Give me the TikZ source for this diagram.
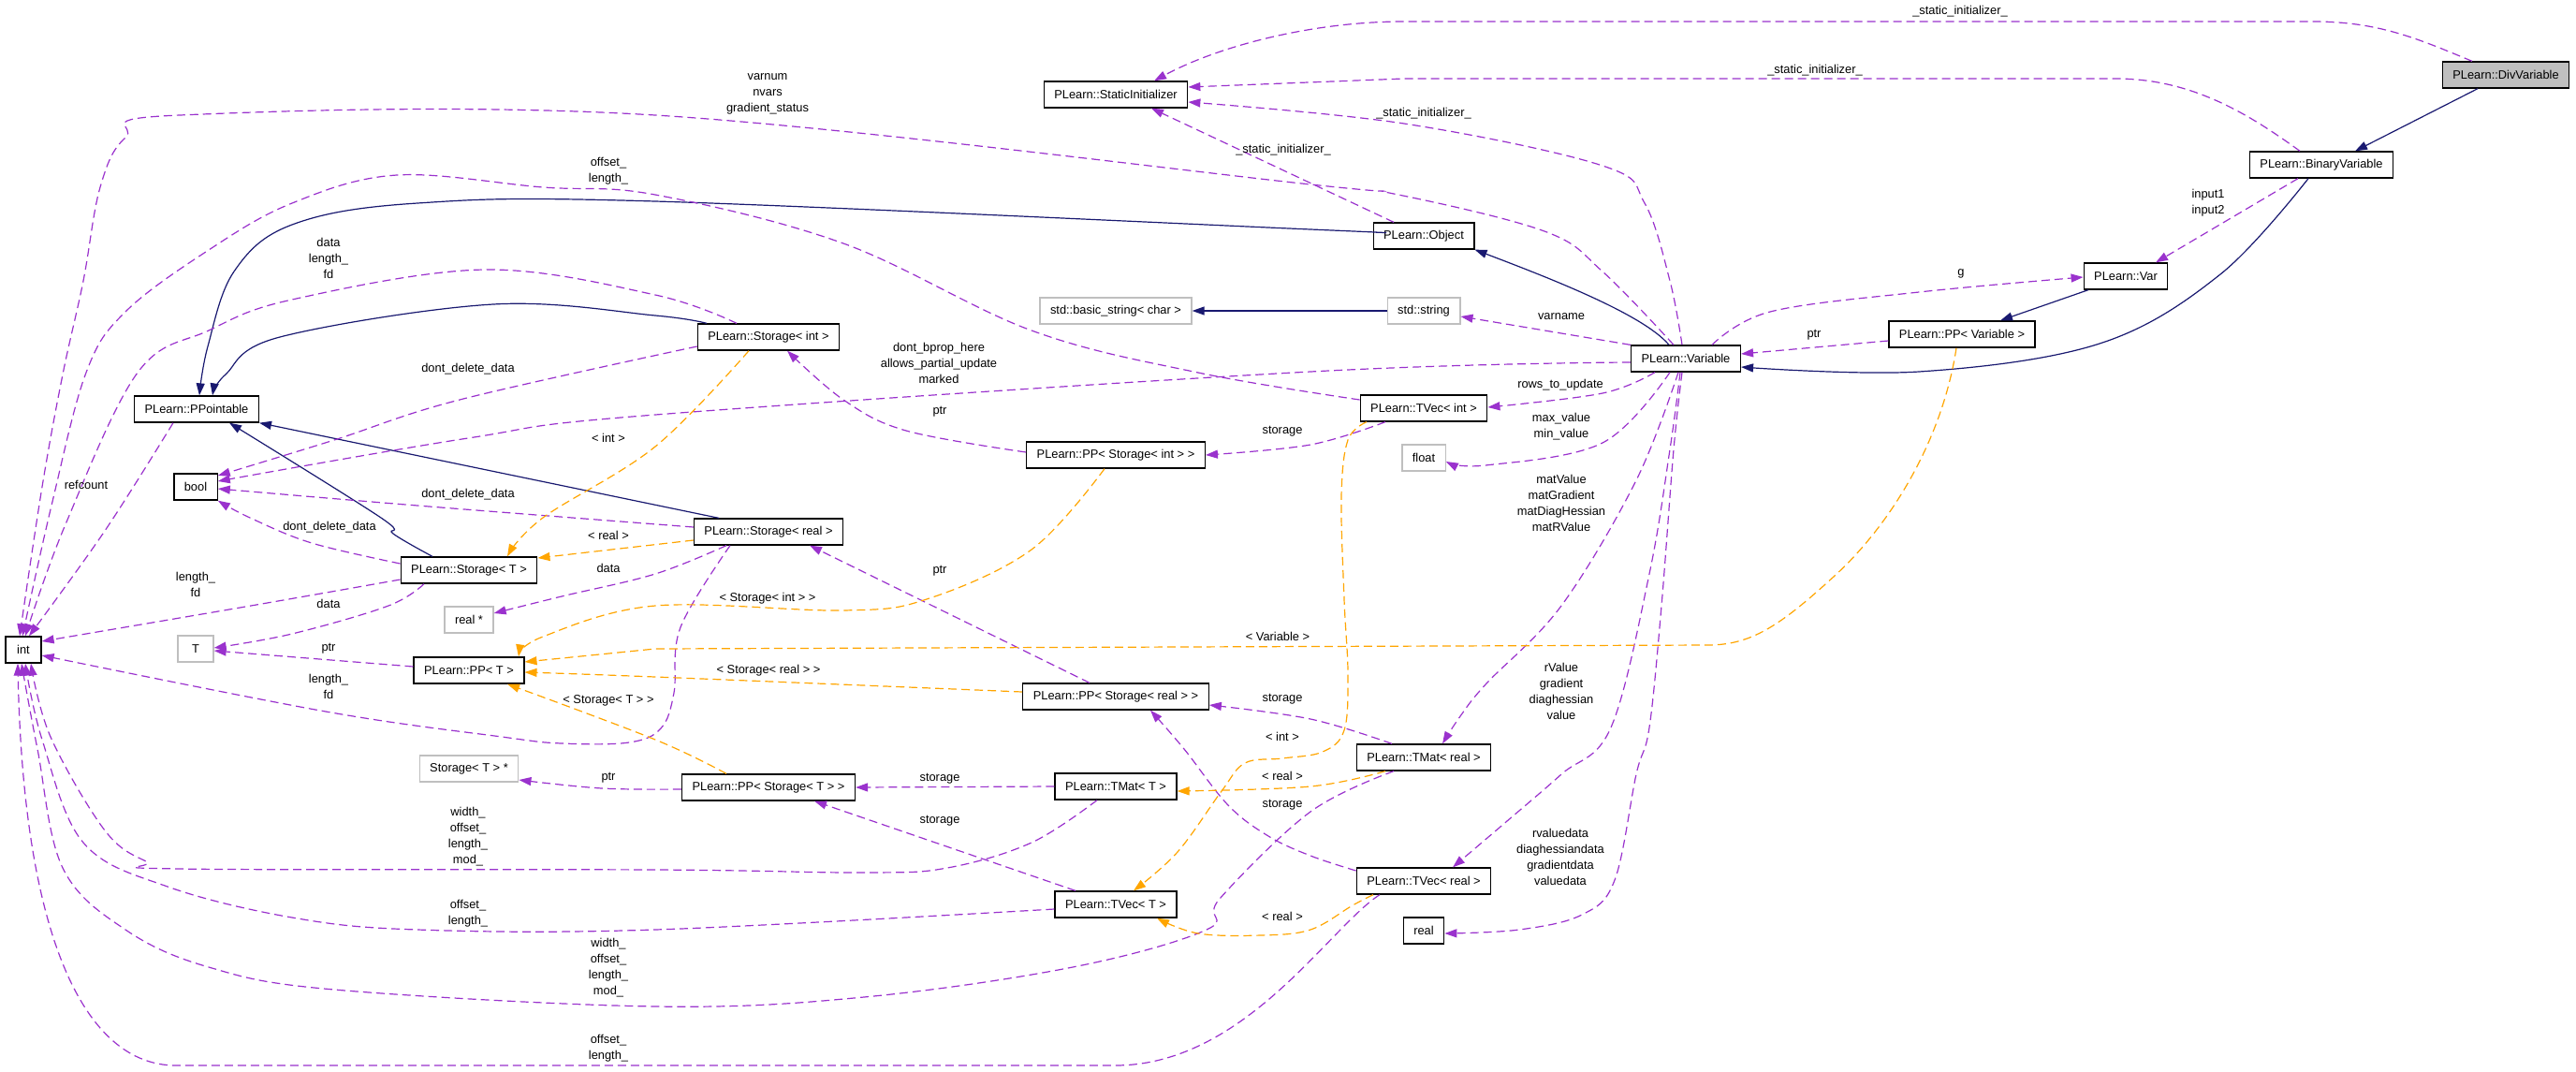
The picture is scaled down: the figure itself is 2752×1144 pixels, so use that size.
\documentclass[tikz,border=0pt]{standalone}
\usepackage{fontspec}
\setmainfont{Liberation Sans}
\usetikzlibrary{arrows.meta}
\definecolor{usecol}{HTML}{9A32CD}
\definecolor{tplcol}{HTML}{FFA500}
\definecolor{inhcol}{HTML}{191970}
\definecolor{grayedge}{HTML}{BFBFBF}
\begin{document}
\begin{tikzpicture}[x=1pt,y=-1pt,
  every node/.style={font=\fontsize{12.85}{17}\selectfont},
  cls/.style={draw=black,line width=1.3pt,fill=white,minimum height=28pt,minimum width=38pt,inner xsep=11pt,inner ysep=0pt},
  ext/.style={cls,draw=grayedge},
  lbl/.style={align=center,inner sep=0pt},
  inherit/.style={draw=inhcol,line width=1.2pt,-{Triangle[length=13pt,width=9pt]}},
  usage/.style={draw=usecol,line width=1.2pt,dash pattern=on 9pt off 5pt,-{Triangle[length=13pt,width=9pt]}},
  templ/.style={usage,draw=tplcol}]
\useasboundingbox (0,0) rectangle (2752,1144);

%%% CLASSES %%%
\node [cls,fill=grayedge] at (2677,80) (div_var) {PLearn::DivVariable};
\node [cls] at (2480,176) (binary_var) {PLearn::BinaryVariable};
\node [cls] at (2271,295) (var) {PLearn::Var};
\node [cls] at (2096,357) (pp_variable) {PLearn::PP< Variable >};
\node [cls] at (1801,383) (variable) {PLearn::Variable};
\node [cls] at (1521,252) (object) {PLearn::Object};
\node [ext] at (1521,332) (std_string) {std::string};
\node [cls] at (1521,436) (tvec_int) {PLearn::TVec< int >};
\node [ext] at (1521,489) (float) {float};
\node [cls] at (1521,809) (tmat_real) {PLearn::TMat< real >};
\node [cls] at (1521,941) (tvec_real) {PLearn::TVec< real >};
\node [cls] at (1521,994) (real) {real};
\node [cls] at (1192,101) (static_init) {PLearn::StaticInitializer};
\node [ext] at (1192,332) (basic_string) {std::basic\_string< char >};
\node [cls] at (1192,486) (pp_stor_int) {PLearn::PP< Storage< int > >};
\node [cls] at (1192,744) (pp_stor_real) {PLearn::PP< Storage< real > >};
\node [cls] at (1192,840) (tmat_T) {PLearn::TMat< T >};
\node [cls] at (1192,966) (tvec_T) {PLearn::TVec< T >};
\node [cls] at (821,360) (stor_int) {PLearn::Storage< int >};
\node [cls] at (821,568) (stor_real) {PLearn::Storage< real >};
\node [cls] at (821,841) (pp_stor_T) {PLearn::PP< Storage< T > >};
\node [cls] at (501,609) (stor_T) {PLearn::Storage< T >};
\node [ext] at (501,662) (real_ptr) {real *};
\node [cls] at (501,716) (pp_T) {PLearn::PP< T >};
\node [ext] at (501,821) (stor_T_ptr) {Storage< T > *};
\node [cls] at (210,437) (ppointable) {PLearn::PPointable};
\node [cls] at (209,520) (bool) {bool};
\node [ext] at (209,693) (T) {T};
\node [cls] at (25,694) (int) {int};

%%% INHERITANCE %%%
\draw [inherit] ([xshift=-30pt]div_var.south) -- ([xshift=36pt]binary_var.north);
\draw [inherit] plot[smooth,tension=0.6] coordinates {([xshift=-14pt]binary_var.south) (2372,293) (2243,367) (2050,397) ([yshift=-9pt]variable.east)};
\draw [inherit] ([xshift=-40pt]var.south) -- ([xshift=41pt]pp_variable.north);
\draw [inherit] ([xshift=-18pt]variable.north) .. controls (1755,335) and (1650,295) .. (object.south east);
\draw [inherit] (std_string.west) -- (basic_string.east);
\draw [inherit] plot[smooth,tension=0.6] coordinates {([yshift=4pt]object.west) (1400,245) (700,215) (446,217) (312,240) (250,290) (222,370) ([xshift=3pt]ppointable.north)};
\draw [inherit] plot[smooth,tension=0.6] coordinates {([xshift=-66pt]stor_int.north) (700,337) (527,325) (299,360) (241,400) ([xshift=17pt]ppointable.north)};
\draw [inherit] ([xshift=-53pt]stor_real.north) -- (ppointable.south east);
\draw [inherit] plot[smooth,tension=0.6] coordinates {([xshift=-39pt]stor_T.north) (420,570) (407,553) ([xshift=35pt]ppointable.south)};

%%% MEMBERS %%%
\draw [usage] ([xshift=-36pt]div_var.north) .. controls (2580,40) and (2540,23) .. (2470,23) -- (1500,23) .. controls (1400,23) and (1300,50) .. ([xshift=41pt]static_init.north);
\draw [usage] ([xshift=-23pt]binary_var.north) .. controls (2400,120) and (2340,84) .. (2260,84) -- (1500,84) -- ([yshift=8pt]static_init.east);
\draw [usage] plot[smooth,tension=0.6] coordinates {([xshift=-4pt]variable.north) (1784,300) (1757,217) (1712,177) (1500,132) ([yshift=-8pt]static_init.east)};
\draw [usage] ([xshift=-32pt]object.north) -- ([xshift=38pt]static_init.south);
\draw [usage] plot[smooth,tension=0.6] coordinates {([xshift=-13pt]variable.north) (1712,290) (1650,247) (1489,207) (1400,197) (700,123) (192,123) (134,147) (107,200) (89,300) (67,400) (45,520) ([xshift=-4pt]int.north)};
\draw [usage] plot[smooth,tension=0.6] coordinates {([yshift=9pt]tvec_int.west) (1280,398) (1102,353) (901,260) (700,208) (580,200) (424,187) (312,217) (223,267) (134,333) (92,398) (55,540) ([xshift=-1pt]int.north)};
\draw [usage] plot[smooth,tension=0.6] coordinates {([xshift=-34pt]stor_int.north) (700,315) (518,288) (312,320) (223,353) (147,398) (70,560) ([xshift=2pt]int.north)};
\draw [usage] plot[smooth,tension=0.6] coordinates {([yshift=-10pt]stor_int.west) (491,427) (357,470) ([yshift=12pt]bool.east)};
\draw [usage] plot[smooth,tension=0.6] coordinates {([yshift=5pt]stor_real.west) (446,540) ([yshift=-2pt]bool.east)};
\draw [usage] plot[smooth,tension=0.6] coordinates {([yshift=-4pt]variable.west) (1400,397) (700,443) (500,468) ([yshift=6pt]bool.east)};
\draw [usage] plot[smooth,tension=0.6] coordinates {([yshift=7pt]stor_T.west) (333,580) (267,553) (bool.south east)};
\draw [usage] plot[smooth,tension=0.6] coordinates {([yshift=-10pt]stor_T.west) (268,647) ([yshift=9pt]int.east)};
\draw [usage] plot[smooth,tension=0.6] coordinates {([xshift=-48pt]stor_T.south) (415,647) (312,677) ([yshift=1pt]T.east)};
\draw [usage] ([yshift=4pt]pp_T.west) -- ([yshift=-2pt]T.east);
\draw [usage] plot[smooth,tension=0.6] coordinates {([xshift=-45pt]stor_real.south) (700,613) (600,637) ([yshift=7pt]real_ptr.east)};
\draw [usage] plot[smooth,tension=0.6] coordinates {([xshift=-41pt]stor_real.south) (727,670) (720,740) (706,778) (672,793) (600,794) (536,787) (348,760) ([yshift=-6pt]int.east)};
\draw [usage] plot[smooth,tension=0.6] coordinates {([yshift=3pt]pp_stor_int.west) (968,460) (901,427) ([xshift=20pt]stor_int.south)};
\draw [usage] plot[smooth,tension=0.6] coordinates {([xshift=-41pt]tvec_int.south) (1400,475) (pp_stor_int.east)};
\draw [usage] plot[smooth,tension=0.6] coordinates {([xshift=-33pt]variable.south) (1712,420) ([yshift=1pt]tvec_int.east)};
\draw [usage] plot[smooth,tension=0.6] coordinates {([xshift=-17pt]variable.south) (1712,473) (1587,497) ([yshift=-4pt]float.east)};
\draw [usage] (variable.north west) -- ([yshift=-6pt]std_string.east);
\draw [usage] ([yshift=-7pt]pp_variable.west) -- ([yshift=5pt]variable.east);
\draw [usage] plot[smooth,tension=0.6] coordinates {([xshift=28pt]variable.north) (1891,333) (2050,312) ([yshift=-1pt]var.west)};
\draw [usage] ([xshift=-25pt]binary_var.south) -- ([xshift=32pt]var.north);
\draw [usage] plot[smooth,tension=0.6] coordinates {([xshift=-8pt]variable.south) (1748,513) (1668,647) (1588,730) (1560,765) ([xshift=20pt]tmat_real.north)};
\draw [usage] plot[smooth,tension=0.6] coordinates {([xshift=-6pt]variable.south) (1784,480) (1762,613) (1721,777) (1668,827) (1610,877) ([xshift=31pt]tvec_real.north)};
\draw [usage] plot[smooth,tension=0.6] coordinates {([xshift=-4pt]variable.south) (1788,480) (1775,647) (1762,777) (1748,827) (1725,940) (1690,977) (1623,993) ([yshift=-3pt]real.east)};
\draw [usage] plot[smooth,tension=0.6] coordinates {([xshift=-34pt]tmat_real.north) (1400,768) ([yshift=-9pt]pp_stor_real.east)};
\draw [usage] plot[smooth,tension=0.6] coordinates {([yshift=11pt]tvec_real.west) (1400,914) (1355,893) (1312,860) (1265,800) ([xshift=37pt]pp_stor_real.south)};
\draw [usage] ([xshift=-28pt]pp_stor_real.north) -- ([xshift=44pt]stor_real.south);
\draw [usage] (tmat_T.west) -- (pp_stor_T.east);
\draw [usage] ([xshift=-43pt]tvec_T.north) -- ([xshift=49pt]pp_stor_T.south);
\draw [usage] plot[smooth,tension=0.6] coordinates {([yshift=-2pt]pp_stor_T.west) (643,842) ([yshift=-12pt]stor_T_ptr.east)};
\draw [usage] plot[smooth,tension=0.6] coordinates {([xshift=-20pt]tmat_T.south) (1102,900) (1012,927) (923,932) (700,929) (192,928) (156,920) (112,887) (54,787) ([xshift=8pt]int.south)};
\draw [usage] plot[smooth,tension=0.6] coordinates {([yshift=-5pt]tvec_T.west) (700,993) (446,993) (312,980) (179,947) (89,900) (45,790) ([xshift=2pt]int.south)};
\draw [usage] plot[smooth,tension=0.6] coordinates {([xshift=-32pt]tmat_real.south) (1400,867) (1303,960) (1289,993) (1146,1033) (923,1065) (700,1075) (357,1057) (223,1033) (134,993) (67,927) (40,800) ([xshift=-2pt]int.south)};
\draw [usage] ([xshift=-47pt]tvec_real.south) .. controls (1420,990) and (1330,1138) .. (1191,1138) -- (188,1138) .. controls (90,1138) and (25,1000) .. ([xshift=-6pt]int.south);
\draw [usage] plot[smooth,tension=0.6] coordinates {([xshift=-25pt]ppointable.south) (112,567) ([xshift=6pt]int.north)};

%%% TEMPLATES %%%
\draw [templ] plot[smooth,tension=0.6] coordinates {([xshift=-21pt]stor_int.south) (700,477) (580,553) ([xshift=41pt]stor_T.north)};
\draw [templ] ([yshift=-9pt]stor_real.west) -- ([yshift=13pt]stor_T.east);
\draw [templ] plot[smooth,tension=0.6] coordinates {([xshift=-12pt]pp_stor_int.south) (1102,587) (990,640) (901,652) (700,647) (580,680) ([xshift=53pt]pp_T.north)};
\draw [templ] ([xshift=-6pt]pp_variable.south) .. controls (2075,470) and (2020,560) .. (1960,615) .. controls (1900,670) and (1870,689) .. (1824,689) -- (700,693) -- ([yshift=9pt]pp_T.east);
\draw [templ] plot[smooth,tension=0.6] coordinates {([yshift=5pt]pp_stor_real.west) (700,723) ([yshift=-2pt]pp_T.east)};
\draw [templ] plot[smooth,tension=0.6] coordinates {([xshift=-45pt]pp_stor_T.north) (700,790) ([xshift=41pt]pp_T.south)};
\draw [templ] plot[smooth,tension=0.6] coordinates {([xshift=-61pt]tvec_int.south) (1440,470) (1433,530) (1436,640) (1440,720) (1436,780) (1413,803) (1370,810) (1330,815) (1305,845) (1258,910) ([xshift=19pt]tvec_T.north)};
\draw [templ] plot[smooth,tension=0.6] coordinates {([xshift=-41pt]tmat_real.south) (1400,840) ([yshift=-5pt]tmat_T.east)};
\draw [templ] plot[smooth,tension=0.6] coordinates {([xshift=-54pt]tvec_real.south) (1445,967) (1400,993) (1347,999) (1280,997) ([xshift=44pt]tvec_T.south)};

%%% LABELS %%%
\node [lbl] at (2094,12) (lab_si1) {\_static\_initializer\_};
\node [lbl] at (1939,75) (lab_si2) {\_static\_initializer\_};
\node [lbl] at (1521,121) (lab_si3) {\_static\_initializer\_};
\node [lbl] at (1371,160) (lab_si4) {\_static\_initializer\_};
\node [lbl] at (820,100) (lab_varnum) {varnum\\nvars\\gradient\_status};
\node [lbl] at (650,183) (lab_tvec_int) {offset\_\\length\_};
\node [lbl] at (351,276) (lab_stor_int) {data\\length\_\\fd};
\node [lbl] at (500,394) (lab_dd1) {dont\_delete\_data};
\node [lbl] at (500,528) (lab_dd2) {dont\_delete\_data};
\node [lbl] at (1003,388) (lab_bprop) {dont\_bprop\_here\\allows\_partial\_update\\marked};
\node [lbl] at (352,563) (lab_dd3) {dont\_delete\_data};
\node [lbl] at (209,624) (lab_stor_T) {length\_\\fd};
\node [lbl] at (351,645) (lab_data1) {data};
\node [lbl] at (351,693) (lab_ptr1) {ptr};
\node [lbl] at (650,607) (lab_data2) {data};
\node [lbl] at (351,733) (lab_stor_real) {length\_\\fd};
\node [lbl] at (1004,440) (lab_ptr2) {ptr};
\node [lbl] at (1370,461) (lab_sto1) {storage};
\node [lbl] at (1667,411) (lab_rows) {rows\_to\_update};
\node [lbl] at (1668,456) (lab_minmax) {max\_value\\min\_value};
\node [lbl] at (1668,338) (lab_varname) {varname};
\node [lbl] at (1938,358) (lab_ptr3) {ptr};
\node [lbl] at (2095,292) (lab_g) {g};
\node [lbl] at (2359,217) (lab_input) {input1\\input2};
\node [lbl] at (1668,537) (lab_mat) {matValue\\matGradient\\matDiagHessian\\matRValue};
\node [lbl] at (1668,738) (lab_vec) {rValue\\gradient\\diaghessian\\value};
\node [lbl] at (1667,915) (lab_vecdata) {rvaluedata\\diaghessiandata\\gradientdata\\valuedata};
\node [lbl] at (1370,747) (lab_sto2) {storage};
\node [lbl] at (1370,860) (lab_sto3) {storage};
\node [lbl] at (1004,610) (lab_ptr4) {ptr};
\node [lbl] at (1004,832) (lab_sto4) {storage};
\node [lbl] at (1004,877) (lab_sto5) {storage};
\node [lbl] at (650,831) (lab_ptr5) {ptr};
\node [lbl] at (500,894) (lab_tmat_T) {width\_\\offset\_\\length\_\\mod\_};
\node [lbl] at (500,976) (lab_tvec_T) {offset\_\\length\_};
\node [lbl] at (650,1034) (lab_tmat_real) {width\_\\offset\_\\length\_\\mod\_};
\node [lbl] at (650,1120) (lab_tvec_real) {offset\_\\length\_};
\node [lbl] at (92,518) (lab_refcount) {refcount};
\node [lbl] at (650,468) (lab_t_int1) {< int >};
\node [lbl] at (650,572) (lab_t_real1) {< real >};
\node [lbl] at (820,639) (lab_t_si) {< Storage< int > >};
\node [lbl] at (1365,680) (lab_t_var) {< Variable >};
\node [lbl] at (821,716) (lab_t_sr) {< Storage< real > >};
\node [lbl] at (650,748) (lab_t_st) {< Storage< T > >};
\node [lbl] at (1370,787) (lab_t_int2) {< int >};
\node [lbl] at (1370,829) (lab_t_real2) {< real >};
\node [lbl] at (1370,979) (lab_t_real3) {< real >};
\end{tikzpicture}
\end{document}
